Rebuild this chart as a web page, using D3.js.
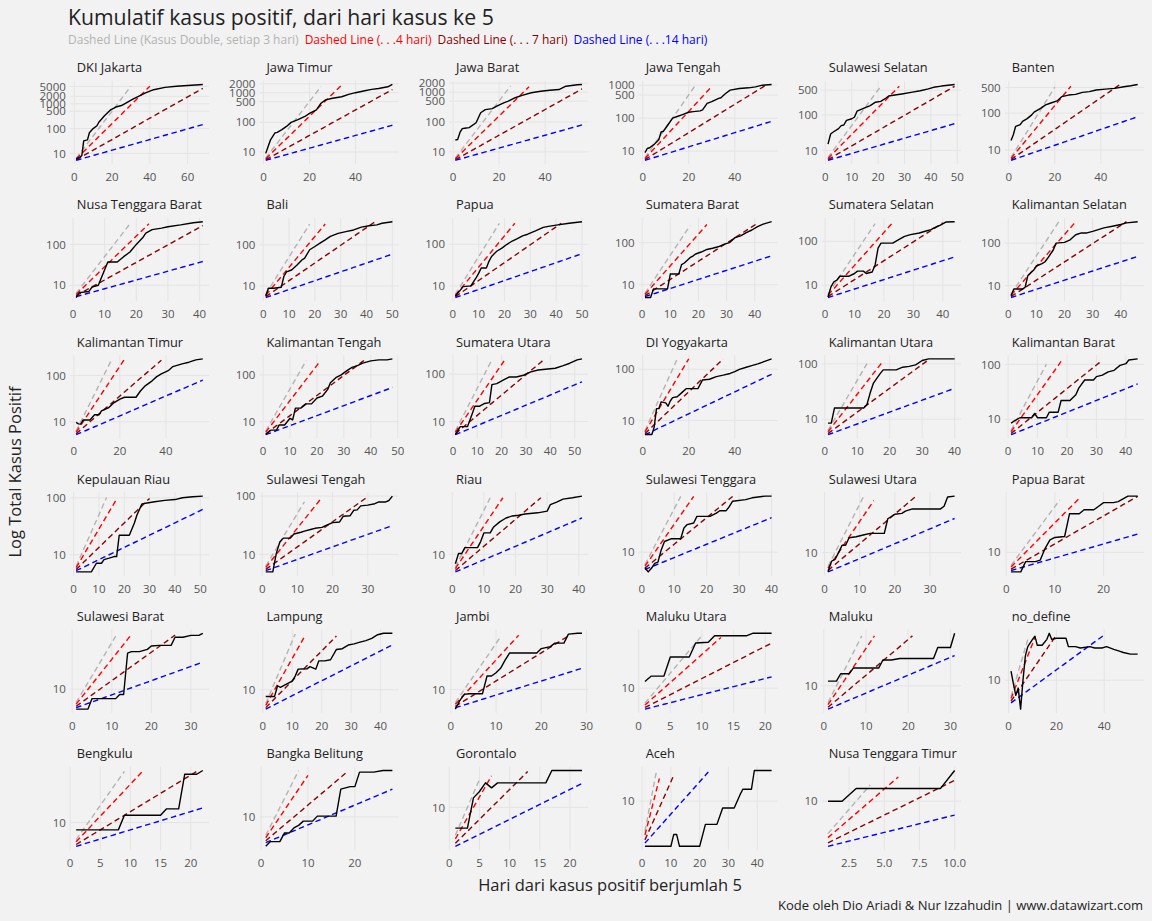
<!DOCTYPE html>
<html>
<head>
<meta charset="utf-8">
<script src="https://cdn.jsdelivr.net/npm/d3@7/dist/d3.min.js"></script>
<style>
  body { margin: 0; background: #f2f2f2; }
  svg { display: block; font-family: 'Open Sans', Lato, sans-serif; }
</style>
</head>
<body>
<div id="chart"></div>
<script>
// facet order (left to right, top to bottom)
const provinsi = [
  'DKI Jakarta', 'Jawa Timur', 'Jawa Barat', 'Jawa Tengah', 'Sulawesi Selatan', 'Banten',
  'Nusa Tenggara Barat', 'Bali', 'Papua', 'Sumatera Barat', 'Sumatera Selatan', 'Kalimantan Selatan',
  'Kalimantan Timur', 'Kalimantan Tengah', 'Sumatera Utara', 'DI Yogyakarta', 'Kalimantan Utara', 'Kalimantan Barat',
  'Kepulauan Riau', 'Sulawesi Tengah', 'Riau', 'Sulawesi Tenggara', 'Sulawesi Utara', 'Papua Barat',
  'Sulawesi Barat', 'Lampung', 'Jambi', 'Maluku Utara', 'Maluku', 'no_define',
  'Bengkulu', 'Bangka Belitung', 'Gorontalo', 'Aceh', 'Nusa Tenggara Timur'
]

// cumulative cases: [hari, kasus]
const kasus = [
  [[1,6],[3,7],[4,8],[5,32],[7,35],[8,68],[10,100],[12,130],[13,180],[16,330],[19,550],[22,740],[25,850],[28,1150],[31,1550],[34,2000],[38,2800],[42,3700],[48,4600],[54,5100],[60,5500],[68,6000]],
  [[1,9],[2,15],[3,25],[5,44],[6,46],[8,57],[10,73],[12,100],[15,123],[18,158],[20,200],[23,264],[25,440],[27,570],[30,650],[34,730],[37,880],[40,1000],[44,1160],[47,1290],[50,1390],[54,1580],[56,1890]],
  [[1,25],[2,26],[3,45],[4,60],[5,62],[7,65],[10,95],[12,205],[14,260],[17,280],[19,340],[22,440],[24,500],[27,650],[30,780],[34,950],[38,1070],[42,1160],[46,1220],[49,1580],[54,1760],[56,1800]],
  [[1,9],[2,12],[3,12.6],[5,16],[6,19],[7,22],[8,38],[9,40],[11,63],[13,100],[15,112],[17,126],[20,151],[22,158],[25,166],[26,178],[28,282],[30,316],[33,398],[34,417],[36,560],[38,708],[42,794],[46,832],[49,891],[52,1000],[56,1050]],
  [[1,15],[2,29],[3,33],[5,41],[6,50],[7,52],[8,70],[10,78],[11,86],[12,127],[14,147],[17,183],[19,228],[21,241],[23,300],[24,340],[27,370],[29,390],[33,440],[36,480],[39,540],[41,600],[44,650],[49,720]],
  [[1,18],[2,26],[3,44],[5,49],[6,60],[8,71],[10,90],[11,107],[14,137],[16,168],[18,186],[21,215],[23,280],[26,310],[29,324],[32,367],[35,383],[38,426],[42,450],[46,470],[50,520],[53,555],[56,600]],
  [[1,5],[2,6.6],[5,7],[6,9],[8,10],[10,24],[11,37],[14,37],[16,50],[18,65],[20,100],[22,145],[23,190],[25,230],[28,250],[30,270],[34,300],[38,340],[41,360]],
  [[1,5.7],[2,8.8],[4,8.8],[7,9.3],[8,17],[9,22],[11,24.5],[13,32],[15,43],[16,47],[18,76],[20,91],[22,110],[24,132],[26,160],[29,190],[32,210],[35,230],[38,270],[41,290],[44,305],[46,335],[50,365]],
  [[1,5.7],[3,8],[4,9.6],[7,10],[9,15.5],[10,20],[11,27],[13,27],[14,39],[15,51],[17,68],[19,81],[21,100],[23,120],[25,137],[27,160],[29,175],[32,210],[35,255],[37,270],[40,290],[45,320],[50,350]],
  [[1,5],[3,5],[4,8],[9,8],[10,18],[13,18],[14,30],[15,33],[17,44],[18,48],[19,54],[21,60],[23,69],[25,74],[27,80],[29,91],[31,100],[33,132],[35,145],[37,174],[39,200],[41,240],[43,275],[46,315]],
  [[1,5.4],[2,9.2],[3,12],[4,13],[5,16],[8,16],[10,18.5],[11,21],[13,21],[14,18.5],[16,20],[17,29],[18,70],[19,91],[23,91],[25,109],[27,130],[29,142],[32,155],[34,170],[36,185],[37,203],[39,230],[41,275],[44,280]],
  [[1,5.8],[2,8.3],[5,8.3],[6,9.1],[7,17.4],[8,20],[9,23],[10,29],[12,33],[13,36],[14,44],[16,69],[17,100],[20,104],[22,120],[24,158],[26,174],[28,174],[30,190],[32,209],[34,229],[37,250],[40,275],[42,300],[46,320]],
  [[1,9.7],[2,9],[3,8.9],[4,10.9],[7,10.9],[9,14.2],[11,14.2],[12,17.3],[15,20],[17,25],[20,31],[22,34],[27,34],[29,47],[31,60],[34,77],[36,95],[38,109],[41,128],[43,157],[47,180],[50,195],[53,219],[56,230]],
  [[1,5.3],[3,6.6],[5,6.6],[6,8.5],[8,8.5],[10,11.8],[11,10.9],[12,19.5],[14,19.5],[16,24],[18,24],[20,32],[22,35],[24,49],[25,68],[27,87],[29,100],[31,122],[33,145],[35,158],[37,178],[40,200],[43,210],[46,210],[48,220]],
  [[1,5.3],[3,7.8],[6,7.8],[8,15],[9,21],[11,21],[13,24],[15,25],[16,60],[18,63],[21,77],[23,87],[26,87],[29,95],[32,112],[35,122],[38,127],[42,133],[45,149],[48,170],[51,200],[53,210]],
  [[1,5.3],[4,5.3],[5,7.4],[6,17],[7,17],[8,23],[10,22],[11,19],[12,24],[13,28],[15,29],[17,35],[19,42],[24,42],[26,62],[29,64],[32,72],[35,77],[38,83],[40,90],[42,100],[45,110],[47,117],[50,128],[53,143],[56,160]],
  [[1,8.5],[2,8.5],[3,16],[12,16],[13,18.5],[14,30],[15,45],[17,66],[18,78],[22,78],[24,87],[26,90],[28,96],[30,115],[32,123],[36,123],[40,123]],
  [[1,8.5],[2,9.3],[4,10.7],[7,10.7],[8,10.7],[9,12.8],[10,10.7],[13,10.7],[14,13.5],[17,13.5],[18,22],[21,22],[23,28],[24,37],[26,52],[29,52],[30,60],[32,64],[34,73],[36,78],[38,96],[40,103],[41,120],[44,126]],
  [[1,5],[7,5],[9,7.1],[11,7.1],[12,8.2],[14,8.7],[16,9.3],[17,9.3],[18,22],[22,22],[24,36],[25,50],[27,78],[29,81],[32,85],[36,90],[40,93],[43,100],[47,104],[51,107]],
  [[1,5],[3,5],[4,10.4],[5,16.3],[6,19],[8,19],[9,22.4],[11,24],[12,25],[14,27],[15,28],[17,29],[18,31],[20,35],[22,36],[23,45],[25,46],[26,57],[27,58],[28,68],[30,70],[32,74],[33,79],[35,79],[36,84],[37,100]],
  [[1,7.1],[2,10.3],[3,10.3],[4,12.8],[8,12.8],[9,16],[10,22],[12,22],[13,27],[15,33],[17,38],[19,41],[21,42],[23,44],[27,46],[30,49],[31,62],[33,68],[35,76],[38,80],[41,85]],
  [[1,5.6],[2,4.8],[3,5.5],[4,6.6],[5,6.9],[6,10.9],[7,14.9],[9,16.5],[12,16.5],[13,24.6],[14,28],[16,29.7],[17,38],[21,38],[23,43],[24,47],[26,47],[27,55],[28,67],[32,71],[34,76],[38,81],[40,81]],
  [[1,5.3],[2,7.5],[3,8],[4,10],[5,12.8],[6,12.8],[7,16.4],[9,17],[11,18],[13,19],[17,19],[18,31],[20,36],[22,37],[23,40],[25,43],[33,43],[34,47],[35,64],[37,66]],
  [[1,5],[3,5],[4,7.2],[6,7.2],[7,7.6],[8,11.5],[9,15.5],[10,16.9],[12,17.5],[13,39],[15,39],[16,45],[18,45],[19,51],[20,58],[22,58],[23,60],[25,73],[27,73]],
  [[1,5],[4,5],[5,7.2],[11,7.2],[12,8.3],[13,8.3],[14,35],[15,37],[17,37],[19,40],[20,45],[22,46],[25,46],[26,61],[28,61],[30,65],[32,65],[33,70]],
  [[1,8],[4,8],[5,11.4],[6,10.8],[8,12],[10,13.3],[11,15.7],[12,19.8],[15,20],[16,21.5],[18,19.8],[19,26],[21,26],[23,27],[25,38],[27,39],[29,44],[31,45.7],[33,48.4],[35,51],[37,55],[39,62],[41,65],[44,65]],
  [[1,5],[2,6.8],[3,8.4],[4,8.6],[7,8.6],[8,16],[9,16],[10,18],[11,21],[12,28],[13,36],[19,36],[20,42],[22,45],[23,51],[25,51],[26,70],[28,72],[29,72]],
  [[1,12.3],[2,14.5],[4,14.5],[5,26],[8,26],[9,40],[11,41],[12,50],[17,50],[18,54],[21,54]],
  [[1,11.4],[3,11.4],[4,14],[6,14],[7,16.4],[13,16.4],[14,20.5],[16,20.5],[18,21.4],[26,21.4],[27,29],[30,29],[31,43]],
  [[1,13],[2,9],[3,6.5],[4,8],[5,4.4],[6,10],[7,20],[8,26],[10,32],[11,35],[12,27],[14,27],[16,32],[17,38],[18,32],[20,33],[24,33],[25,26],[28,26],[30,25],[34,26],[36,25],[39,25],[41,26],[44,24],[46,23],[48,22],[51,21],[54,21]],
  [[1,8.2],[8,8.2],[9,12.2],[15,12.2],[16,14.5],[18,14.5],[19,37],[21,37],[22,41]],
  [[1,4.8],[2,5.4],[4,5.4],[5,6.7],[6,6.7],[7,7.6],[8,8.1],[9,9],[11,9],[12,10.2],[16,10.2],[17,20],[19,21.3],[20,21.3],[21,30.6],[24,30.6],[26,31.9],[28,31.9]],
  [[1,7.1],[3,7.1],[4,11.7],[5,13],[6,15],[7,13.8],[8,15],[16,15],[17,18.4],[22,18.4]],
  [[1,5],[10,5],[11,6],[12,6],[13,5],[20,5],[22,7],[26,7],[28,9],[32,9],[34,11],[35,12],[38,12],[39,16],[45,16]],
  [[1,10],[2,10],[3,12],[9,12],[10,15.5]]
]

// x tick spacing of each facet (free scales)
const xTickStep = [
  20, 20, 20, 20, 10, 20,
  10, 10, 10, 10, 10, 10,
  20, 10, 10, 20, 10, 10,
  10, 10, 10, 10, 10, 10,
  10, 10, 10, 5, 10, 20,
  5, 10, 5, 10, 2.5
]
const yTickBreaks = [10, 100, 500, 1000, 2000, 5000]

// reference lines: cases double every n days, starting from 5 cases
const kasusAwal = 5
const doublingDays = [3, 4, 7, 14]
const doublingColors = ['#b3b3b3', '#ff0000', '#8b0000', '#0000ff']
const legendLabels = [
  'Dashed Line (Kasus Double, setiap 3 hari)',
  'Dashed Line (. . .4 hari)',
  'Dashed Line (. . . 7 hari)',
  'Dashed Line (. . .14 hari)'
]

class FacetChart {
  defaultSetting () {
    return {
      width: 1152,
      height: 921,
      background: '#f2f2f2',
      cols: 6,
      panel: { top: 80.7, rowStep: 137.2, height: 83.4, right: 1144, firstLeft: 39.5, gap: 20, pad: 4 },
      gridColor: '#e4e4e4',
      tickColor: '#555',
      textColor: '#222',
      lineWidth: 1.4,
      dash: '5.5,3.5',
      fontSize: { title: 21.2, subtitle: 12, strip: 12.8, tick: 11.5, axis: 16.5, caption: 13 }
    }
  }

  constructor (selector, opt) {
    this.config = Object.assign({}, this.defaultSetting(), opt)
    const { width, height, background } = this.config
    this.svg = d3.select(selector)
      .append('svg')
      .attr('width', width)
      .attr('height', height)
      .style('background', background)
    this.headerG = this.svg.append('g').classed('header-group', true)
    this.panelsG = this.svg.append('g').classed('panels-group', true)
    this.titlesG = this.svg.append('g').classed('axis-title-group', true)
  }

  render () {
    const { cols, panel } = this.config
    const panels = this.buildPanels()
    const lefts = this.columnLefts(panels)
    panels.forEach((p, i) => {
      const top = panel.top + Math.floor(i / cols) * panel.rowStep
      this.renderPanel(p, lefts[i % cols], top)
    })
    this.renderHeader()
    this.renderAxisTitles()
  }

  // domains, ticks and reference lines of every facet
  buildPanels () {
    return provinsi.map((name, i) => {
      const series = kasus[i]
      const lastDay = d3.max(series, d => d[0])
      const maxCases = d3.max(series, d => d[1])
      const refs = doublingDays.map((n, k) => ({
        color: doublingColors[k],
        points: d3.range(1, lastDay + 1)
          .map(day => [day, kasusAwal * Math.pow(2, day / n)])
          .filter(d => d[1] <= maxCases)
      }))
      const allY = series.map(d => d[1]).concat(...refs.map(r => r.points.map(d => d[1])))
      const lo = Math.log10(d3.min(allY))
      const hi = Math.log10(d3.max(allY))
      const padY = (hi - lo) * 0.05
      const padX = (lastDay - 1) * 0.05
      const xDomain = [1 - padX, lastDay + padX]
      const yDomain = [Math.pow(10, lo - padY), Math.pow(10, hi + padY)]
      const step = xTickStep[i]
      const xTicks = d3.range(Math.ceil(xDomain[0] / step) * step, xDomain[1] + 1e-9, step)
      const yTicks = yTickBreaks.filter(v => v >= yDomain[0] && v <= yDomain[1])
      return { name, series, refs, xDomain, yDomain, xTicks, yTicks, step }
    })
  }

  // each column gets room for its widest y label
  columnLefts (panels) {
    const { cols, panel, fontSize } = this.config
    const probe = this.svg.append('text').style('font-size', fontSize.tick + 'px')
    const textW = s => { probe.text(s); return probe.node().getComputedTextLength() }
    const labW = d3.range(cols).map(c => d3.max(
      panels.filter((p, i) => i % cols === c),
      p => d3.max(p.yTicks, v => textW(String(v)))
    ))
    probe.remove()
    const left0 = panel.firstLeft + labW[0] + panel.pad
    const spacing = d3.sum(labW.slice(1)) + (cols - 1) * (panel.gap + panel.pad)
    this.panelWidth = (panel.right - left0 - spacing) / cols
    const lefts = [left0]
    for (let c = 1; c < cols; c++) {
      lefts.push(lefts[c - 1] + this.panelWidth + panel.gap + panel.pad + labW[c])
    }
    return lefts
  }

  renderPanel (p, left, top) {
    const { panel, gridColor, tickColor, textColor, fontSize, lineWidth, dash } = this.config
    const w = this.panelWidth
    const h = panel.height
    const x = d3.scaleLinear().domain(p.xDomain).range([0, w])
    const y = d3.scaleLog().domain(p.yDomain).range([h, 0])
    const g = this.panelsG.append('g')
      .attr('transform', `translate(${left}, ${top})`)

    // grid lines
    g.selectAll(null).data(p.xTicks).enter().append('line')
      .attr('x1', d => x(d)).attr('x2', d => x(d))
      .attr('y1', 0).attr('y2', h)
      .attr('stroke', gridColor).attr('stroke-width', 1)
    g.selectAll(null).data(p.yTicks).enter().append('line')
      .attr('x1', 0).attr('x2', w)
      .attr('y1', d => y(d)).attr('y2', d => y(d))
      .attr('stroke', gridColor).attr('stroke-width', 1)

    // tick labels
    const fmt = p.step % 1 ? d3.format('.1f') : d3.format('d')
    g.selectAll(null).data(p.xTicks).enter().append('text')
      .attr('x', d => x(d)).attr('y', h + 17)
      .attr('text-anchor', 'middle')
      .style('font-size', fontSize.tick + 'px')
      .attr('fill', tickColor)
      .text(fmt)
    g.selectAll(null).data(p.yTicks).enter().append('text')
      .attr('x', -panel.pad).attr('y', d => y(d))
      .attr('dy', '0.36em')
      .attr('text-anchor', 'end')
      .style('font-size', fontSize.tick + 'px')
      .attr('fill', tickColor)
      .text(d => d)

    // facet title
    g.append('text')
      .attr('x', 7).attr('y', -8.5)
      .style('font-size', fontSize.strip + 'px')
      .attr('fill', textColor)
      .text(p.name)

    const line = d3.line().x(d => x(d[0])).y(d => y(d[1]))
    // doubling reference lines
    g.selectAll(null).data(p.refs).enter().append('path')
      .attr('d', d => line(d.points))
      .attr('fill', 'none')
      .attr('stroke', d => d.color)
      .attr('stroke-width', lineWidth)
      .attr('stroke-dasharray', dash)
    // cumulative cases
    g.append('path')
      .datum(p.series)
      .attr('d', line)
      .attr('fill', 'none')
      .attr('stroke', '#000')
      .attr('stroke-width', lineWidth)
      .attr('stroke-linejoin', 'round')
  }

  renderHeader () {
    const { textColor, fontSize } = this.config
    this.headerG.append('text')
      .attr('x', 68).attr('y', 25)
      .style('font-size', fontSize.title + 'px')
      .attr('fill', textColor)
      .text('Kumulatif kasus positif, dari hari kasus ke 5')
    const sub = this.headerG.append('text')
      .attr('x', 68).attr('y', 44)
      .style('font-size', fontSize.subtitle + 'px')
    sub.selectAll('tspan').data(legendLabels).enter().append('tspan')
      .attr('dx', (d, i) => i ? 6 : 0)
      .attr('fill', (d, i) => doublingColors[i])
      .text(d => d)
  }

  renderAxisTitles () {
    const { textColor, fontSize, panel } = this.config
    this.titlesG.append('text')
      .attr('x', 610).attr('y', 891)
      .attr('text-anchor', 'middle')
      .style('font-size', fontSize.axis + 'px')
      .attr('fill', textColor)
      .text('Hari dari kasus positif berjumlah 5')
    this.titlesG.append('text')
      .attr('transform', 'translate(21, 472) rotate(-90)')
      .attr('text-anchor', 'middle')
      .style('font-size', fontSize.axis + 'px')
      .attr('fill', textColor)
      .text('Log Total Kasus Positif')
    this.titlesG.append('text')
      .attr('x', panel.right - 1).attr('y', 910)
      .attr('text-anchor', 'end')
      .style('font-size', fontSize.caption + 'px')
      .attr('fill', textColor)
      .text('Kode oleh Dio Ariadi & Nur Izzahudin | www.datawizart.com')
  }
}

const chart = new FacetChart('#chart')
chart.render()
</script>
</body>
</html>
